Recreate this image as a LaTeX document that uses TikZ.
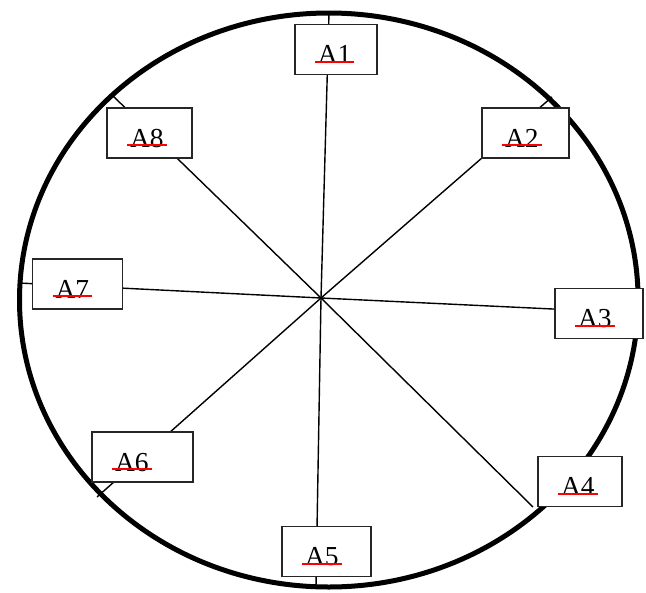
\documentclass[tikz,border=0pt]{standalone}
\usepackage{fontspec}
\setmainfont{Liberation Serif}
\usepackage{xcolor}
\usepackage{tikz}

\newlength{\pxu}
\setlength{\pxu}{0.025cm}
\newcommand{\redbase}[1]{\setbox0\hbox{#1}\hbox{\copy0\hskip-\wd0\hskip-3\pxu\textcolor{red}{\rule[0.6\pxu]{\dimexpr\wd0+6\pxu\relax}{2\pxu}}\hskip-3\pxu}}

\tikzset{
  rim/.style={draw=black, line width=5\pxu},
  spoke/.style={draw=black, line width=1.4\pxu},
  labelbox/.style={
    rectangle, draw=black!85, fill=white, line width=1.3\pxu,
    minimum height=50\pxu, inner xsep=23\pxu, inner ysep=0pt,
    text height=28\pxu, text depth=0pt, text width=#1, align=left,
    font=\fontsize{19.5}{22}\selectfont
  },
}

\begin{document}
\begin{tikzpicture}[x=0.025cm, y=-0.025cm]
  \useasboundingbox (0,0) rectangle (646,593);
  \coordinate (mid) at (328.8,300);
  \coordinate (hub) at (321,298);
  \coordinate (e1) at (329,13);
  \coordinate (e2) at (552,97);
  \coordinate (e3) at (637,313);
  \coordinate (e4) at (533,507);
  \coordinate (e5) at (316,587);
  \coordinate (e6) at (97,497);
  \coordinate (e7) at (19,283);
  \coordinate (e8) at (112,95);

  \draw[rim] (mid) ellipse [x radius=309.3, y radius=287];
  \foreach \i in {1,...,8}
    \draw[spoke] (hub) -- (e\i);

  \node[labelbox=36\pxu] (a1) at (335.9,49.3) {\redbase{A1}};
  \node[labelbox=41\pxu] (a2) at (525.5,133) {\redbase{A2}};
  \node[labelbox=42\pxu] (a3) at (599,313.5) {\redbase{A3}};
  \node[labelbox=38\pxu] (a4) at (580,481.5) {\redbase{A4}};
  \node[labelbox=43\pxu] (a5) at (326.5,551.5) {\redbase{A5}};
  \node[labelbox=55\pxu] (a6) at (142.5,457) {\redbase{A6}};
  \node[labelbox=44\pxu] (a7) at (77.5,284) {\redbase{A7}};
  \node[labelbox=39\pxu] (a8) at (149.5,133) {\redbase{A8}};
\end{tikzpicture}
\end{document}
